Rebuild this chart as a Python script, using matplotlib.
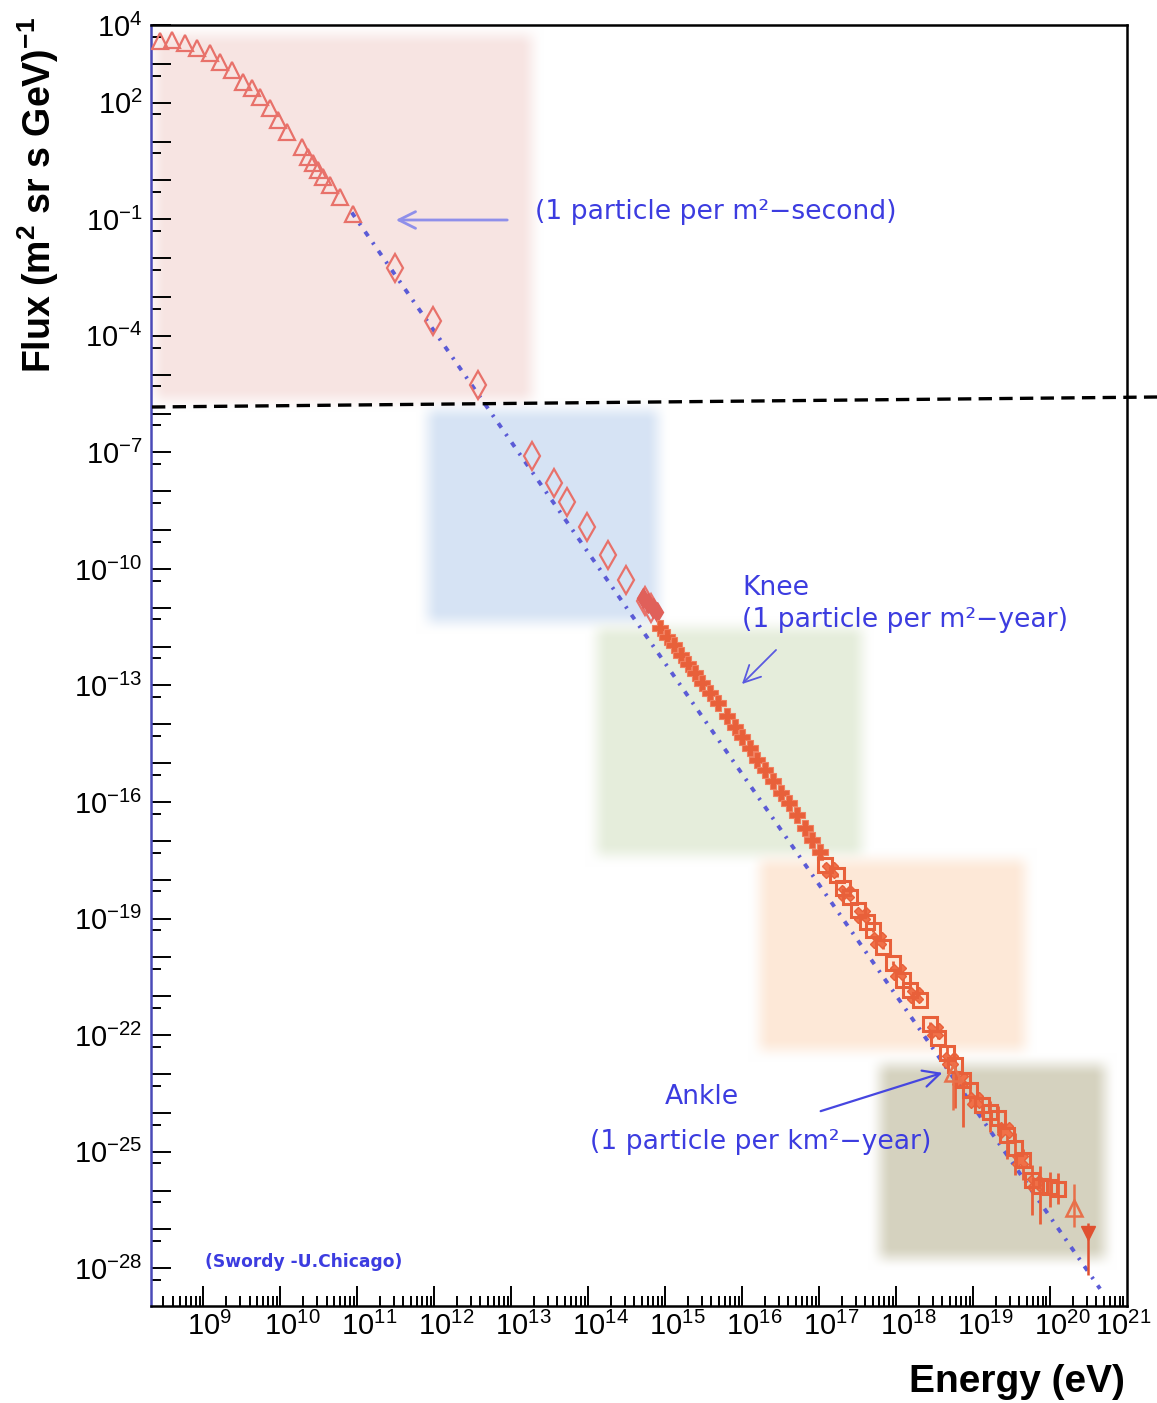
import matplotlib.pyplot as plt
import numpy as np
from matplotlib.ticker import FixedLocator, FuncFormatter, NullFormatter
from matplotlib import transforms
from matplotlib.lines import Line2D
from matplotlib.patches import FancyArrowPatch

plt.rcParams['font.family'] = ['Liberation Sans', 'DejaVu Sans']
plt.rcParams['mathtext.fontset'] = 'custom'
plt.rcParams['mathtext.rm'] = 'Liberation Sans'
plt.rcParams['mathtext.bf'] = 'Liberation Sans:bold'

W, H = 1157, 1403

# --- data (log10 of energy in eV, log10 of flux) ---
tri_logE = [8.44, 8.60, 8.77, 8.92, 9.09, 9.22, 9.38, 9.52, 9.64, 9.74, 9.87,
            9.97, 10.09, 10.29, 10.36, 10.43, 10.49, 10.56, 10.65, 10.78, 10.94]
tri_logF = [3.59, 3.61, 3.54, 3.41, 3.28, 3.05, 2.84, 2.53, 2.38, 2.15, 1.86,
            1.55, 1.25, 0.86, 0.60, 0.45, 0.27, 0.09, -0.12, -0.43, -0.87]

dia_logE = [11.49, 11.99, 12.57, 13.27, 13.56, 13.73, 13.99, 14.26, 14.49, 14.74, 14.82]
dia_logF = [-2.26, -3.62, -5.27, -7.10, -7.79, -8.28, -8.93, -9.65, -10.29, -10.83, -11.01]

small_logE = [14.71, 14.78, 14.84, 14.90]
small_logF = [-10.75, -10.88, -11.01, -11.11]

knee_logE = [14.94, 15.03, 15.12, 15.21, 15.30, 15.39, 15.48, 15.58, 15.69, 15.81, 15.91,
             16.00, 16.10, 16.20, 16.30, 16.40, 16.51, 16.61, 16.71, 16.82, 16.91, 17.01]
knee_logF = [-11.53, -11.76, -11.96, -12.22, -12.45, -12.68, -12.94, -13.20, -13.46, -13.79, -14.08,
             -14.33, -14.62, -14.92, -15.18, -15.47, -15.77, -16.03, -16.34, -16.68, -16.98, -17.29]

high_logE = [17.08, 17.23, 17.31, 17.40, 17.51, 17.62, 17.70, 17.83, 17.96, 18.09, 18.18, 18.31, 18.44, 18.55,
             18.66, 18.77, 18.87, 18.96, 19.12, 19.22, 19.32, 19.44, 19.55, 19.65, 19.77, 19.87, 20.00, 20.10]
high_logF = [-17.63, -17.89, -18.22, -18.45, -18.79, -19.10, -19.30, -19.74, -20.15, -20.59, -20.85, -21.10, -21.70, -22.06,
             -22.47, -22.78, -23.16, -23.42, -23.81, -23.99, -24.12, -24.58, -24.91, -25.22, -25.74, -25.87, -25.92, -25.95]
high_err_lo = [0.05] * 14 + [0.3, 1.1, 1.2, 0.4, 0.3, 0.5, 0.4, 0.6, 0.7, 0.5, 0.9, 1.0, 0.5, 0.4]
high_err_hi = [0.05] * 14 + [0.2, 0.3, 0.2, 0.3, 0.2, 0.3, 0.3, 0.3, 0.4, 0.3, 0.4, 0.5, 0.4, 0.4]

high2_logE = [17.14, 17.35, 17.56, 17.77, 18.03, 18.25, 18.51, 18.70, 18.83, 19.03, 19.42, 19.61, 19.81]
high2_logF = [-17.76, -18.35, -18.91, -19.56, -20.38, -20.97, -21.88, -22.65, -23.16, -23.68, -24.45, -25.22, -25.81]

uhe_tri_logE = [18.74, 20.31]
uhe_tri_logF = [-22.98, -26.46]
uhe_tri_lo = [0.95, 0.49]
uhe_tri_hi = [0.0, 0.64]

limit_logE = [20.49]
limit_logF = [-27.10]
limit_lo = [1.08]
limit_hi = [0.26]

# power law guide
pl_index = 2.85
pl_anchor_logE = 11.0
pl_anchor_logF = -1.025
pl_range = (10.93, 20.65)

x_decades = list(range(9, 22))
y_labelled = [4, 2] + list(range(-1, -29, -3))

# --- figure ---
fig = plt.figure(figsize=(W / 100, H / 100), dpi=100)
ax_l, ax_r, ax_t, ax_b = 151, 1127, 25, 1306
pos = [ax_l / W, 1 - ax_b / H, (ax_r - ax_l) / W, (ax_b - ax_t) / H]


def fx(x):
    return x / W


def fy(y):
    return 1 - y / H


# soft coloured boxes behind the data
boxes = [((155, 35, 532, 400), (247, 228, 226)),
         ((428, 410, 658, 622), (214, 227, 244)),
         ((597, 628, 862, 855), (229, 237, 219)),
         ((760, 860, 1025, 1050), (253, 232, 215)),
         ((880, 1065, 1105, 1258), (213, 210, 191))]
xs = np.arange(ax_l, ax_r) + 0.5
ys = np.arange(ax_t, ax_b) + 0.5
img = np.ones((len(ys), len(xs), 3))
blur = 24.0


def ramp(t):
    t = np.clip(t / blur + 0.5, 0, 1)
    return t * t * (3 - 2 * t)


for (x0, y0, x1, y1), col in boxes:
    a = ramp(xs - x0)[None, :] * ramp(x1 - xs)[None, :] * ramp(ys - y0)[:, None] * ramp(y1 - ys)[:, None]
    c = np.array(col) / 255.0
    img = img * (1 - a[..., None]) + c * a[..., None]

bg = fig.add_axes(pos, zorder=0)
bg.imshow(img, aspect='auto', extent=[0, 1, 0, 1], interpolation='bilinear')
bg.axis('off')

ax = fig.add_axes(pos, zorder=1)
ax.patch.set_alpha(0)
ax.set_xscale('log')
ax.set_yscale('log')

red = '#e8716a'
orange = '#e8603a'

E = lambda v: 10.0 ** np.asarray(v)

# power law dotted guide
lgE = np.linspace(pl_range[0], pl_range[1], 200)
ax.plot(E(lgE), E(pl_anchor_logF - pl_index * (lgE - pl_anchor_logE)),
        color='#5b5bd6', lw=2.8, dashes=(1.4, 2.0, 0.6, 2.0), zorder=2)

ax.plot(E(tri_logE), E(tri_logF), ls='none', marker='^', ms=11, mfc='none', mec=red, mew=1.6, zorder=3)
ax.plot(E(dia_logE), E(dia_logF), ls='none', marker='d', ms=14, mfc='none', mec=red, mew=1.6, zorder=3)
ax.plot(E(small_logE), E(small_logF), ls='none', marker='d', ms=10, mfc='#e0605a', mec='#e0605a', zorder=3)
ax.plot(E(knee_logE), E(knee_logF), ls='none', marker='P', ms=11, mfc=orange, mec='#f08060', mew=0.8, zorder=3)

hE, hF = E(high_logE), E(high_logF)
ax.errorbar(hE, hF, yerr=[hF - hF * 10 ** -np.array(high_err_lo), hF * 10 ** np.array(high_err_hi) - hF],
            fmt='s', ms=10, mfc='none', mec=orange, mew=2.2, ecolor=orange, elinewidth=2, capsize=0, zorder=3)
ax.plot(E(high2_logE), E(high2_logF), ls='none', marker='X', ms=12, mfc='#f07048', mec=orange, zorder=3)

tE, tF = E(uhe_tri_logE), E(uhe_tri_logF)
ax.errorbar(tE, tF, yerr=[tF - tF * 10 ** -np.array(uhe_tri_lo), tF * 10 ** np.array(uhe_tri_hi) - tF],
            fmt='^', ms=12, mfc='none', mec='#e8704a', mew=1.8, ecolor='#e8704a', elinewidth=1.8, capsize=0, zorder=3)
lE, lF = E(limit_logE), E(limit_logF)
ax.errorbar(lE, lF, yerr=[lF - lF * 10 ** -np.array(limit_lo), lF * 10 ** np.array(limit_hi) - lF],
            fmt='v', ms=10, mfc='#e05030', mec='#e05030', ecolor='#e05030', elinewidth=1.8, capsize=0, zorder=3)

ax.set_xlim(2.1e8, 1e21)
ax.set_ylim(1.07e-29, 1e4)

# ticks
ax.xaxis.set_major_locator(FixedLocator([10.0 ** k for k in range(9, 21)]))
ax.xaxis.set_minor_locator(FixedLocator([m * 10.0 ** k for k in range(8, 21) for m in range(2, 10)]))
ax.xaxis.set_major_formatter(NullFormatter())
ax.xaxis.set_minor_formatter(NullFormatter())
ax.yaxis.set_major_locator(FixedLocator([10.0 ** k for k in range(-29, 5)]))
ax.yaxis.set_minor_locator(FixedLocator([5 * 10.0 ** k for k in range(-30, 4)]))
ax.yaxis.set_minor_formatter(NullFormatter())
ax.yaxis.set_major_formatter(FuncFormatter(
    lambda v, p: r'$10^{%d}$' % round(np.log10(v)) if round(np.log10(v)) in y_labelled else ''))
ax.tick_params(which='major', direction='in', length=14.4, width=1.4, labelsize=21, pad=6,
               top=False, right=False, colors='black')
ax.tick_params(which='minor', direction='in', length=7.2, width=1.4, top=False, right=False)
for s in ax.spines.values():
    s.set_linewidth(1.8)
ax.spines['left'].set_color('#4a4ab8')

# x tick labels, "10" centred on the tick with the exponent hanging right
base = transforms.blended_transform_factory(ax.transData, ax.transAxes)
for k in x_decades:
    shift = -16 if k < 21 else -32
    tr = base + transforms.ScaledTranslation(shift / 100, -6 / 100, fig.dpi_scale_trans)
    ax.text(10.0 ** k, 0, r'$10^{%d}$' % k, transform=tr, ha='left', va='top', fontsize=21, clip_on=False)

# axis titles
fig.text(fx(38), fy(195), r'Flux (m$^\mathbf{2}$ sr s GeV)$^\mathbf{-1}$', rotation=90,
         ha='center', va='center', fontsize=27, fontweight='bold')
fig.text(fx(1125), fy(1382), 'Energy (eV)', ha='right', va='center', fontsize=28, fontweight='bold')

# dashed horizontal marker line
fig.add_artist(Line2D([fx(152), fx(1157)], [fy(407), fy(397)], color='black', lw=2.4,
                      dashes=(4, 2.2), transform=fig.transFigure))

# annotations
blue = '#3c3ce0'
ann_font = ['DejaVu Sans']
fig.text(fx(535), fy(212), '(1 particle per m²\u2212second)', color=blue, fontsize=19.2, va='center', family=ann_font)
fig.text(fx(742), fy(588), 'Knee', color=blue, fontsize=19.2, va='center', family=ann_font)
fig.text(fx(742), fy(620), '(1 particle per m²\u2212year)', color=blue, fontsize=19.2, va='center', family=ann_font)
fig.text(fx(665), fy(1097), 'Ankle', color=blue, fontsize=19.2, va='center', family=ann_font)
fig.text(fx(590), fy(1142), '(1 particle per km²\u2212year)', color=blue, fontsize=19.2, va='center', family=ann_font)
fig.text(fx(205), fy(1262), '(Swordy -U.Chicago)', color=blue, fontsize=12.3, fontweight='bold', va='center',
         family=ann_font)

arrow_specs = [((510, 220), (393, 220), '#8f8fea', 2.0),
               ((778, 648), (740, 686), '#5a5ae0', 1.3),
               ((818, 1112), (945, 1072), '#4646e0', 1.6)]
for (x0, y0), (x1, y1), c, lw in arrow_specs:
    fig.add_artist(FancyArrowPatch(
        (fx(x0), fy(y0)), (fx(x1), fy(y1)), transform=fig.transFigure,
        arrowstyle='->,head_length=6,head_width=3', color=c, lw=lw, mutation_scale=2))

fig.savefig('out.png', dpi=100)
